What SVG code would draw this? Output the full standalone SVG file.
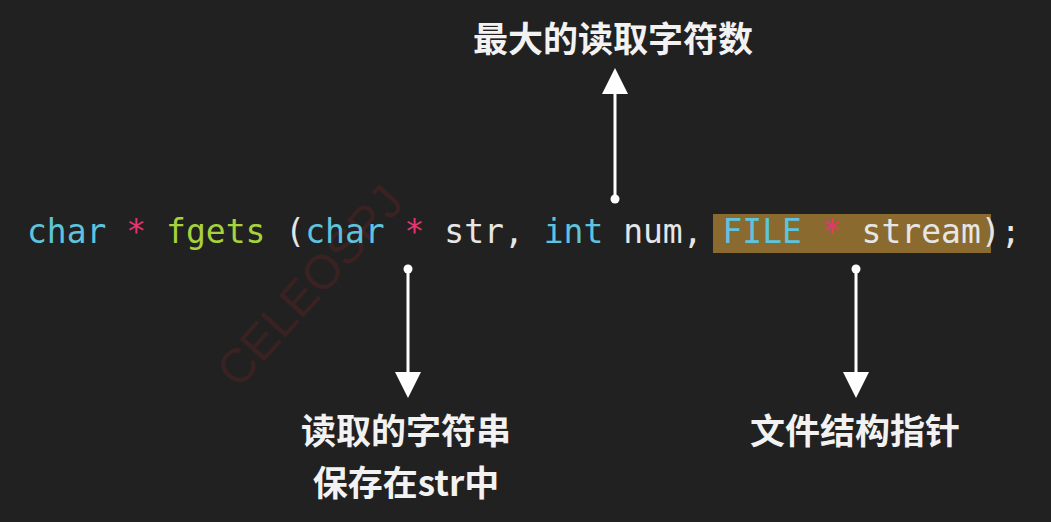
<svg xmlns="http://www.w3.org/2000/svg" width="1051" height="522" viewBox="0 0 1051 522">
<defs>
<marker id="head" markerUnits="userSpaceOnUse" markerWidth="26" markerHeight="26" refX="1" refY="13" orient="auto">
<path d="M0,0 L26,13 L0,26 z" fill="#ffffff"/>
</marker>
<marker id="dot" markerUnits="userSpaceOnUse" markerWidth="12" markerHeight="12" refX="6" refY="6" orient="auto">
<circle cx="6" cy="6" r="4.5" fill="#ffffff"/>
</marker>
<style>
.code{font-family:"DejaVu Sans Mono","Liberation Mono",monospace;font-size:33px;white-space:pre;fill:#e6e6e6}
.kw{fill:#5ec3dc}
.st{fill:#e23571}
.fn{fill:#a8d23c}
.lbl{font-family:"Noto Sans CJK SC","Noto Serif CJK SC",sans-serif;font-size:35px;font-weight:bold;fill:#f2f2f2;text-anchor:middle}
.conn{stroke:#ffffff;stroke-width:3;fill:none;marker-start:url(#dot);marker-end:url(#head)}
.wm{font-family:"Liberation Sans",sans-serif;font-size:48px;fill:#3a2222}
</style>
</defs>
<rect width="1051" height="522" fill="#212121"/>
<g id="watermark">
<text class="wm" transform="translate(238,390) rotate(-48)">CELEOSPJ</text>
</g>
<g id="code">
<rect x="713" y="214" width="278" height="39" fill="#8a6a2e"/>
<text class="code" x="27" y="243"><tspan class="kw">char</tspan> <tspan class="st">*</tspan> <tspan class="fn">fgets</tspan> (<tspan class="kw">char</tspan> <tspan class="st">*</tspan> str, <tspan class="kw">int</tspan> num, <tspan class="kw">FILE</tspan> <tspan class="st">*</tspan> stream);</text>
</g>
<g id="connectors">
<line class="conn" x1="615" y1="199" x2="615" y2="93"/>
<line class="conn" x1="408" y1="269" x2="408" y2="373"/>
<line class="conn" x1="856" y1="269" x2="856" y2="373"/>
</g>
<g id="label-num">
<text class="lbl" x="613" y="52">最大的读取字符数</text>
</g>
<g id="label-str">
<text class="lbl" x="406" y="444">读取的字符串</text>
<text class="lbl" x="406" y="496">保存在str中</text>
</g>
<g id="label-stream">
<text class="lbl" x="855" y="444">文件结构指针</text>
</g>
</svg>
